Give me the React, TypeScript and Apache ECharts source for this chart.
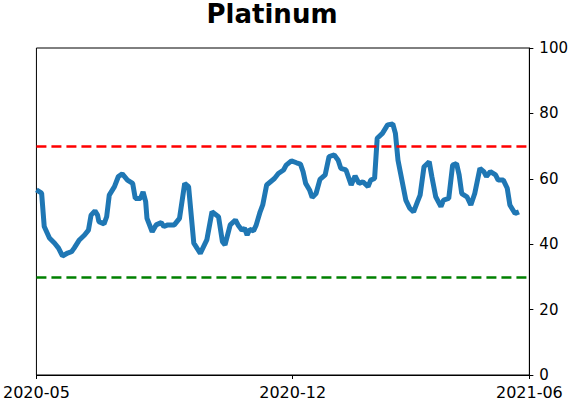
import React, { useEffect, useRef } from "react";
import * as echarts from "echarts";

const dates: string[] = [
  "2020-05-18","2020-05-22","2020-05-24","2020-05-28","2020-06-01","2020-06-04","2020-06-07","2020-06-11","2020-06-14",
  "2020-06-16","2020-06-20","2020-06-24","2020-06-27","2020-06-29","2020-07-02","2020-07-04","2020-07-05","2020-07-09","2020-07-11","2020-07-13",
  "2020-07-17","2020-07-20","2020-07-23","2020-07-27","2020-07-31","2020-08-02","2020-08-06","2020-08-08","2020-08-10","2020-08-11",
  "2020-08-15","2020-08-18","2020-08-22","2020-08-24","2020-08-27","2020-09-01","2020-09-05","2020-09-09","2020-09-12",
  "2020-09-16","2020-09-21","2020-09-26","2020-09-30","2020-10-05","2020-10-08","2020-10-10",
  "2020-10-14","2020-10-18","2020-10-20","2020-10-23","2020-10-25","2020-10-27","2020-10-29","2020-11-01","2020-11-03","2020-11-06","2020-11-08",
  "2020-11-11","2020-11-14","2020-11-17","2020-11-20","2020-11-24","2020-11-26","2020-11-30","2020-12-04","2020-12-07",
  "2020-12-09","2020-12-11","2020-12-14","2020-12-16","2020-12-19","2020-12-22","2020-12-26","2020-12-29","2021-01-02","2021-01-05",
  "2021-01-07","2021-01-11","2021-01-15","2021-01-18","2021-01-21","2021-01-24","2021-01-28","2021-01-30","2021-02-02","2021-02-04",
  "2021-02-08","2021-02-12","2021-02-16","2021-02-18","2021-02-20","2021-02-22","2021-02-26","2021-03-01","2021-03-04",
  "2021-03-07","2021-03-09","2021-03-12","2021-03-16","2021-03-18","2021-03-21","2021-03-25","2021-03-27","2021-03-31","2021-04-03",
  "2021-04-06","2021-04-08","2021-04-10","2021-04-14","2021-04-17","2021-04-20","2021-04-24","2021-04-27","2021-04-29",
  "2021-05-02","2021-05-06","2021-05-08","2021-05-12","2021-05-15","2021-05-17","2021-05-21","2021-05-24",
];

const values: number[] = [
  56.6,55.6,45.4,41.9,40.3,38.8,36.4,37.3,37.7,
  38.8,41.3,42.8,44.3,48.9,50.2,48.9,46.9,46.2,48.4,55.0,
  57.6,60.7,61.5,59.6,58.6,54.0,54.0,56.0,53.0,47.9,
  43.8,45.9,46.6,45.4,45.9,45.9,47.9,58.6,57.6,
  40.3,37.2,41.3,49.9,48.4,40.8,39.8,
  45.9,47.4,45.9,44.3,44.9,42.8,44.5,44.1,45.9,49.9,52.0,
  58.1,59.1,60.1,61.6,62.7,64.2,65.5,64.9,64.5,
  62.2,58.6,56.6,54.3,55.5,59.8,61.2,66.8,67.3,65.7,
  63.2,62.7,58.1,60.9,58.6,59.1,57.6,59.6,60.1,72.4,
  73.9,76.5,76.8,73.9,65.7,61.6,53.5,51.0,49.9,
  53.0,55.0,63.7,65.2,60.7,54.5,51.5,53.5,54.0,64.2,
  64.7,61.2,55.5,54.5,52.0,55.5,63.2,62.2,60.7,
  62.2,61.2,59.6,59.6,57.1,52.0,49.4,49.9,
];

// x-axis spans first to last tick date; labels shown as year-month
const xTickDates: string[] = ["2020-05-18", "2020-12-01", "2021-06-01"];
const xTickLabels: string[] = ["2020-05", "2020-12", "2021-06"];
const yTicks: number[] = [0, 20, 40, 60, 80, 100];
const upperLevel = 70;
const lowerLevel = 30;

const toTs = (s: string) => new Date(s + "T00:00:00Z").getTime();

export default function App() {
  const ref = useRef<HTMLDivElement>(null);
  useEffect(() => {
    if (!ref.current) return;
    const chart = echarts.init(ref.current, null, { renderer: "svg" });
    const xTickValues = xTickDates.map(toTs);
    const font = "DejaVu Sans";
    chart.setOption({
      animation: false,
      textStyle: { fontFamily: font },
      title: {
        text: "Platinum",
        left: 272,
        top: 1,
        padding: 0,
        textAlign: "center",
        textStyle: { fontFamily: font, fontWeight: "bold", fontSize: 26, lineHeight: 25, color: "#000" },
      },
      grid: {
        left: 35,
        right: 40,
        top: 48,
        bottom: 27,
        show: true,
        borderColor: "#000",
        borderWidth: 1,
        backgroundColor: "#fff",
      },
      xAxis: {
        type: "value",
        min: xTickValues[0],
        max: xTickValues[xTickValues.length - 1],
        axisLine: { show: true, lineStyle: { color: "#000", width: 1 } },
        axisTick: { show: true, length: 4, inside: false, customValues: xTickValues, lineStyle: { color: "#000" } },
        axisLabel: {
          customValues: xTickValues,
          formatter: (v: number) => {
            const i = xTickValues.indexOf(v);
            return i >= 0 ? xTickLabels[i] : "";
          },
          color: "#000",
          fontSize: 16,
          lineHeight: 16,
          fontFamily: font,
          margin: 9,
          hideOverlap: false,
          showMinLabel: true,
          showMaxLabel: true,
        },
        splitLine: { show: false },
      },
      yAxis: {
        type: "value",
        position: "right",
        min: yTicks[0],
        max: yTicks[yTicks.length - 1],
        interval: 20,
        axisLine: { show: true, lineStyle: { color: "#000", width: 1 } },
        axisTick: { show: true, length: 4, lineStyle: { color: "#000" } },
        axisLabel: { color: "#000", fontSize: 15, lineHeight: 14, fontFamily: font, margin: 10 },
        splitLine: { show: false },
      },
      series: [
        {
          type: "line",
          data: dates.map((d, i) => [toTs(d), values[i]]),
          showSymbol: false,
          symbol: "none",
          lineStyle: { color: "#1f77b4", width: 5 },
          z: 3,
          markLine: {
            silent: true,
            symbol: "none",
            label: { show: false },
            emphasis: { disabled: true },
            data: [
              { yAxis: upperLevel, lineStyle: { color: "#ff0000", width: 2.5, type: [10, 5] } },
              { yAxis: lowerLevel, lineStyle: { color: "#008000", width: 2.5, type: [10, 5] } },
            ],
          },
        },
      ],
    });
    return () => chart.dispose();
  }, []);
  return <div ref={ref} style={{ width: 571, height: 402, position: "absolute", left: 0, top: 0 }} />;
}
